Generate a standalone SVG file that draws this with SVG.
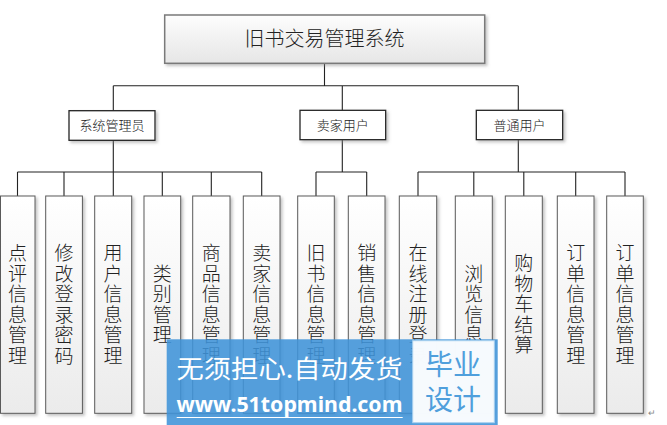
<svg xmlns="http://www.w3.org/2000/svg" width="667" height="425" viewBox="0 0 667 425">
<style>
.t{font-family:"Noto Sans CJK SC","Liberation Sans",sans-serif;fill:#222;font-weight:300;}
.leaf rect{fill:url(#lg);stroke:#5a5a5a;stroke-width:1;filter:url(#sh);}
.mid rect{fill:#fff;stroke:#222;stroke-width:1.3;filter:url(#sh);}
.lt{font-size:19px;text-anchor:middle;}
.mt{font-size:13px;text-anchor:middle;}
.conn path{fill:none;stroke:#222;stroke-width:1.1;}
</style>
<defs>
<linearGradient id="lg" x1="0" y1="0" x2="0" y2="1">
<stop offset="0" stop-color="#ffffff"/>
<stop offset="1" stop-color="#ebebeb"/>
</linearGradient>
<linearGradient id="tg" x1="0" y1="0" x2="0" y2="1">
<stop offset="0" stop-color="#fdfdfd"/>
<stop offset="1" stop-color="#e6e6e6"/>
</linearGradient>
<filter id="sh" x="-20%" y="-20%" width="150%" height="150%">
<feDropShadow dx="2" dy="2" stdDeviation="1.5" flood-color="#888" flood-opacity="0.5"/>
</filter>
</defs>
<rect width="667" height="425" fill="#fff"/>

<g id="connectors" class="conn">
<path d="M324.5 63.3V85.7M113.3 85.7H518.3M113.3 85.7V110.7M342.3 85.7V110.3M518.3 85.7V110.3"/>
<path d="M113.3 140.3V172M17.5 172H261.7M17.5 172V196M64 172V196M113.3 172V196M162.3 172V196M211.3 172V196M261.7 172V196"/>
<path d="M342.3 139.7V172M316 172H366.7M316 172V196M366.7 172V196"/>
<path d="M518.3 139.7V172M418 172H625M418 172V196M473.8 172V196M523.8 172V196M575.7 172V196M625 172V196"/>
</g>

<g id="root">
<rect x="164.7" y="15" width="320" height="48.3" fill="url(#tg)" stroke="#7a7a7a" stroke-width="1.5" filter="url(#sh)"/>
<text class="t" x="324.5" y="46" font-size="20" text-anchor="middle">旧书交易管理系统</text>
</g>

<g id="admin" class="mid"><rect x="69" y="110.7" width="86" height="29.6"/><text class="t mt" x="112" y="130">系统管理员</text></g>
<g id="seller" class="mid"><rect x="300" y="110.3" width="85.7" height="29.4"/><text class="t mt" x="342.8" y="130">卖家用户</text></g>
<g id="user" class="mid"><rect x="476.3" y="110.3" width="86.4" height="29.4"/><text class="t mt" x="519.5" y="130">普通用户</text></g>

<g id="leaf1" class="leaf"><rect x="0.5" y="196" width="34.5" height="217.3"/><text class="t lt" x="17.5" y="260"><tspan x="17.5">点</tspan><tspan x="17.5" dy="20.5">评</tspan><tspan x="17.5" dy="20.5">信</tspan><tspan x="17.5" dy="20.5">息</tspan><tspan x="17.5" dy="20.5">管</tspan><tspan x="17.5" dy="20.5">理</tspan></text></g>
<g id="leaf2" class="leaf"><rect x="45.7" y="196" width="36.7" height="217.3"/><text class="t lt" x="64" y="260"><tspan x="64">修</tspan><tspan x="64" dy="20.5">改</tspan><tspan x="64" dy="20.5">登</tspan><tspan x="64" dy="20.5">录</tspan><tspan x="64" dy="20.5">密</tspan><tspan x="64" dy="20.5">码</tspan></text></g>
<g id="leaf3" class="leaf"><rect x="94.7" y="196" width="37" height="217.3"/><text class="t lt" x="113" y="260"><tspan x="113">用</tspan><tspan x="113" dy="20.5">户</tspan><tspan x="113" dy="20.5">信</tspan><tspan x="113" dy="20.5">息</tspan><tspan x="113" dy="20.5">管</tspan><tspan x="113" dy="20.5">理</tspan></text></g>
<g id="leaf4" class="leaf"><rect x="144" y="196" width="36.7" height="217.3"/><text class="t lt" x="162.3" y="280.5"><tspan x="162.3">类</tspan><tspan x="162.3" dy="20.5">别</tspan><tspan x="162.3" dy="20.5">管</tspan><tspan x="162.3" dy="20.5">理</tspan></text></g>
<g id="leaf5" class="leaf"><rect x="192.7" y="196" width="37.3" height="217.3"/><text class="t lt" x="211.3" y="260"><tspan x="211.3">商</tspan><tspan x="211.3" dy="20.5">品</tspan><tspan x="211.3" dy="20.5">信</tspan><tspan x="211.3" dy="20.5">息</tspan><tspan x="211.3" dy="20.5">管</tspan><tspan x="211.3" dy="20.5">理</tspan></text></g>
<g id="leaf6" class="leaf"><rect x="243.3" y="196" width="36.7" height="217.3"/><text class="t lt" x="261.7" y="260"><tspan x="261.7">卖</tspan><tspan x="261.7" dy="20.5">家</tspan><tspan x="261.7" dy="20.5">信</tspan><tspan x="261.7" dy="20.5">息</tspan><tspan x="261.7" dy="20.5">管</tspan><tspan x="261.7" dy="20.5">理</tspan></text></g>
<g id="leaf7" class="leaf"><rect x="297.7" y="196" width="36.6" height="217.3"/><text class="t lt" x="316" y="260"><tspan x="316">旧</tspan><tspan x="316" dy="20.5">书</tspan><tspan x="316" dy="20.5">信</tspan><tspan x="316" dy="20.5">息</tspan><tspan x="316" dy="20.5">管</tspan><tspan x="316" dy="20.5">理</tspan></text></g>
<g id="leaf8" class="leaf"><rect x="348.3" y="196" width="36.7" height="217.3"/><text class="t lt" x="366.7" y="260"><tspan x="366.7">销</tspan><tspan x="366.7" dy="20.5">售</tspan><tspan x="366.7" dy="20.5">信</tspan><tspan x="366.7" dy="20.5">息</tspan><tspan x="366.7" dy="20.5">管</tspan><tspan x="366.7" dy="20.5">理</tspan></text></g>
<g id="leaf9" class="leaf"><rect x="399.3" y="196" width="37.4" height="217.3"/><text class="t lt" x="418" y="260"><tspan x="418">在</tspan><tspan x="418" dy="20.5">线</tspan><tspan x="418" dy="20.5">注</tspan><tspan x="418" dy="20.5">册</tspan><tspan x="418" dy="20.5">登</tspan><tspan x="418" dy="20.5">录</tspan></text></g>
<g id="leaf10" class="leaf"><rect x="455.3" y="196" width="37" height="217.3"/><text class="t lt" x="473.8" y="280.5"><tspan x="473.8">浏</tspan><tspan x="473.8" dy="20.5">览</tspan><tspan x="473.8" dy="20.5">信</tspan><tspan x="473.8" dy="20.5">息</tspan></text></g>
<g id="leaf11" class="leaf"><rect x="505.3" y="196" width="37" height="217.3"/><text class="t lt" x="523.8" y="270"><tspan x="523.8">购</tspan><tspan x="523.8" dy="20.5">物</tspan><tspan x="523.8" dy="20.5">车</tspan><tspan x="523.8" dy="20.5">结</tspan><tspan x="523.8" dy="20.5">算</tspan></text></g>
<g id="leaf12" class="leaf"><rect x="557.3" y="196" width="36.7" height="217.3"/><text class="t lt" x="575.7" y="260"><tspan x="575.7">订</tspan><tspan x="575.7" dy="20.5">单</tspan><tspan x="575.7" dy="20.5">信</tspan><tspan x="575.7" dy="20.5">息</tspan><tspan x="575.7" dy="20.5">管</tspan><tspan x="575.7" dy="20.5">理</tspan></text></g>
<g id="leaf13" class="leaf"><rect x="606.7" y="196" width="36.6" height="217.3"/><text class="t lt" x="625" y="260"><tspan x="625">订</tspan><tspan x="625" dy="20.5">单</tspan><tspan x="625" dy="20.5">信</tspan><tspan x="625" dy="20.5">息</tspan><tspan x="625" dy="20.5">管</tspan><tspan x="625" dy="20.5">理</tspan></text></g>

<text class="t" x="648" y="416" font-size="9" style="fill:#888">↵</text>

<g id="watermark">
<rect x="166.7" y="339.3" width="331" height="86" fill="#3f93d8" fill-opacity="0.88"/>
<rect x="412.7" y="340.7" width="81.6" height="82" fill="#fff" fill-opacity="0.95" stroke="#a9d0ef" stroke-width="1"/>
<text x="289.5" y="378" font-family="Noto Sans CJK SC, sans-serif" font-size="25" fill="#fff" text-anchor="middle" textLength="226" lengthAdjust="spacingAndGlyphs">无须担心.自动发货</text>
<text x="289.5" y="412" font-family="Noto Sans, Liberation Sans, sans-serif" font-weight="bold" font-size="22" fill="#fff" text-anchor="middle" textLength="226" lengthAdjust="spacingAndGlyphs">www.51topmind.com</text>
<line x1="176.7" y1="417.5" x2="402.7" y2="417.5" stroke="#fff" stroke-width="1.2"/>
<text x="453" y="375" font-family="Noto Sans CJK SC, sans-serif" font-size="28" fill="#4f9fdc" text-anchor="middle">毕业</text>
<text x="453" y="410" font-family="Noto Sans CJK SC, sans-serif" font-size="28" fill="#4f9fdc" text-anchor="middle">设计</text>
</g>
</svg>
